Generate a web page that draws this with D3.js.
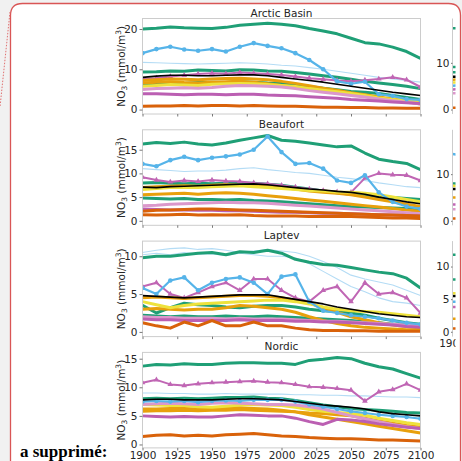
<!DOCTYPE html>
<html>
<head>
<meta charset="utf-8">
<script src="https://cdn.jsdelivr.net/npm/d3@7"></script>
<style>
  body { margin: 0; background: #f1f1f1; }
  svg { display: block; font-family: "DejaVu Sans", sans-serif; }
</style>
</head>
<body>
<svg width="462" height="461"></svg>
<script>
// ---- data ----
var years = [1900, 1910, 1920, 1930, 1940, 1950, 1960, 1970, 1980, 1990, 2000,
             2010, 2020, 2030, 2040, 2050, 2060, 2070, 2080, 2090, 2100];
var xTicks = [1900, 1925, 1950, 1975, 2000, 2025, 2050, 2075, 2100];
var regions = ["Arctic Basin", "Beaufort", "Laptev", "Nordic"];
var yDomains = [[-1.1, 22.6], [-0.95, 19.2], [-0.62, 12.0], [-0.6, 16.1]];
var yTicks = [[0, 10, 20], [0, 5, 10, 15], [0, 5, 10], [0, 5, 10, 15]];

var models = ["mean", "greenA", "sky", "lightblue", "lightblue2", "greenB", "purpleA",
              "orangeA", "yellow", "orangeB", "greenC", "pink", "purpleB", "verm", "verm2"];

var arcticBasin = [
  [8.0, 8.3, 8.5, 8.5, 8.4, 8.4, 8.5, 8.6, 8.6, 8.4, 8.0, 7.6, 7.2, 6.8, 6.3, 5.8, 5.3, 4.8, 4.3, 3.9, 3.5],
  [20.0, 20.2, 20.5, 20.3, 20.2, 20.1, 20.4, 20.9, 21.2, 21.4, 21.2, 20.8, 20.1, 19.5, 18.8, 17.7, 16.6, 16.3, 15.5, 14.4, 12.7],
  [14.0, 15.0, 15.6, 14.9, 14.6, 15.0, 14.4, 15.6, 16.5, 15.8, 15.2, 14.0, 12.3, 10.0, 7.0, 6.4, 6.9, 3.8, 3.4, 2.6, 2.4],
  [11.7, 11.6, 11.5, 11.4, 11.3, 11.4, 11.5, 11.6, 11.5, 11.3, 11.0, 10.8, 10.4, 10.0, 9.5, 9.0, 8.5, 8.0, 7.6, 7.2, 6.8],
  null,
  [9.3, 9.4, 9.6, 9.5, 9.8, 9.7, 9.6, 9.9, 9.8, 9.6, 9.5, 9.2, 8.8, 8.4, 8.0, 7.5, 7.0, 6.6, 6.2, 5.8, 5.2],
  [7.6, 7.8, 8.2, 8.5, 8.8, 9.0, 8.9, 9.2, 9.0, 8.8, 8.6, 8.2, 7.8, 7.5, 7.2, 7.0, 7.3, 7.6, 8.0, 7.4, 5.6],
  [7.2, 7.4, 7.6, 7.5, 7.4, 7.6, 7.7, 7.8, 7.6, 7.4, 7.0, 6.5, 5.9, 5.3, 4.8, 4.2, 3.7, 3.1, 2.6, 2.1, 1.6],
  [5.8, 6.0, 6.2, 6.1, 6.0, 6.3, 6.4, 6.5, 6.4, 6.2, 6.0, 5.7, 5.2, 4.8, 4.4, 4.0, 3.5, 2.9, 2.5, 2.1, 1.8],
  [6.6, 6.8, 6.9, 6.7, 6.6, 6.8, 6.9, 7.0, 6.8, 6.4, 6.0, 5.6, 5.2, 4.8, 4.3, 3.9, 3.4, 2.9, 2.4, 2.0, 1.4],
  [6.3, 6.4, 6.6, 6.5, 6.7, 6.8, 6.7, 6.9, 6.8, 6.6, 6.5, 6.2, 5.7, 5.3, 4.9, 4.5, 4.3, 4.0, 3.5, 3.0, 2.5],
  [5.0, 5.2, 5.3, 5.4, 5.3, 5.5, 5.8, 6.0, 5.9, 5.8, 5.6, 5.2, 4.7, 4.3, 3.9, 3.5, 3.1, 2.6, 2.2, 1.8, 1.4],
  [3.9, 3.9, 3.8, 3.7, 3.8, 3.8, 3.7, 3.8, 3.8, 3.6, 3.5, 3.4, 3.2, 3.0, 2.8, 2.5, 2.3, 2.1, 1.9, 1.7, 1.5],
  [0.8, 0.9, 0.9, 1.0, 0.9, 1.0, 1.0, 0.9, 1.0, 0.9, 0.8, 0.8, 0.7, 0.6, 0.6, 0.5, 0.5, 0.4, 0.4, 0.3, 0.3],
  null
];

var beaufort = [
  [7.1, 7.0, 7.2, 7.3, 7.4, 7.5, 7.6, 7.7, 7.8, 7.6, 7.3, 7.0, 6.7, 6.5, 6.2, 6.0, 5.6, 5.0, 4.5, 4.0, 3.6],
  [16.2, 16.5, 16.3, 16.6, 16.2, 16.0, 16.4, 17.0, 17.5, 18.0, 17.0, 16.8, 16.4, 16.0, 15.6, 15.8, 14.3, 13.0, 12.5, 12.1, 10.8],
  [12.0, 11.5, 12.8, 13.5, 12.8, 13.3, 13.6, 14.0, 15.0, 17.8, 14.5, 12.0, 12.2, 11.0, 8.5, 8.0, 9.6, 6.0, 4.0, 3.0, 2.5],
  [11.0, 10.8, 10.6, 10.4, 10.5, 10.5, 10.7, 11.0, 11.2, 10.8, 10.5, 10.2, 10.0, 9.6, 9.2, 8.9, 8.5, 8.0, 7.6, 7.2, 7.0],
  null,
  [8.0, 8.1, 7.9, 7.8, 7.9, 7.8, 7.9, 8.0, 7.9, 7.7, 7.5, 7.1, 6.7, 6.3, 5.9, 5.6, 5.3, 5.1, 4.9, 4.7, 4.5],
  [9.2, 8.6, 8.2, 8.5, 8.3, 8.6, 8.4, 8.3, 8.0, 7.8, 7.5, 7.1, 6.7, 6.4, 6.1, 6.0, 9.0, 10.0, 9.7, 9.6, 8.5],
  [7.0, 7.2, 7.3, 7.4, 7.3, 7.5, 7.6, 7.5, 7.4, 7.2, 7.0, 6.7, 6.3, 6.0, 5.8, 5.5, 5.0, 4.5, 4.0, 3.5, 3.0],
  [6.6, 6.8, 7.0, 7.1, 7.0, 7.2, 7.3, 7.4, 7.2, 7.0, 6.8, 6.6, 6.4, 6.3, 6.1, 6.0, 5.8, 5.5, 5.0, 4.5, 4.0],
  [5.5, 5.6, 5.7, 5.8, 5.6, 5.8, 5.9, 5.8, 5.6, 5.3, 5.0, 4.7, 4.4, 4.1, 3.8, 3.5, 3.2, 2.9, 2.6, 2.3, 2.0],
  [4.8, 4.7, 4.6, 4.7, 4.5, 4.5, 4.4, 4.5, 4.3, 4.2, 4.0, 3.8, 3.6, 3.4, 3.2, 3.0, 2.9, 2.8, 2.7, 2.6, 2.5],
  [3.2, 3.3, 3.5, 3.6, 3.7, 3.8, 3.9, 3.8, 3.8, 3.7, 3.5, 3.3, 3.1, 2.9, 2.7, 2.5, 2.3, 2.1, 1.9, 1.7, 1.5],
  [2.5, 2.4, 2.3, 2.3, 2.2, 2.2, 2.1, 2.1, 2.0, 1.9, 1.8, 1.8, 1.7, 1.6, 1.6, 1.5, 1.4, 1.3, 1.2, 1.1, 1.0],
  [1.3, 1.2, 1.3, 1.4, 1.2, 1.3, 1.2, 1.3, 1.1, 1.0, 1.0, 1.0, 0.9, 0.9, 0.9, 0.9, 0.8, 0.7, 0.6, 0.6, 0.5],
  [2.0, 2.2, 2.3, 2.4, 2.5, 2.5, 2.4, 2.3, 2.2, 2.1, 2.0, 1.9, 1.8, 1.7, 1.6, 1.5, 1.4, 1.3, 1.2, 1.1, 1.0]
];

var laptev = [
  [4.8, 4.7, 4.6, 4.5, 4.6, 4.7, 4.8, 4.9, 4.9, 4.9, 4.6, 4.3, 4.0, 3.7, 3.3, 3.0, 2.7, 2.4, 2.2, 2.0, 1.9],
  [9.8, 10.0, 10.0, 10.2, 10.4, 10.5, 10.2, 10.6, 10.5, 10.8, 10.4, 9.6, 9.2, 8.9, 8.8, 8.5, 8.2, 7.9, 7.7, 7.1, 5.8],
  [5.8, 5.0, 6.8, 7.2, 5.5, 6.5, 7.0, 7.2, 6.5, 5.0, 7.3, 7.6, 4.0, 2.8, 2.5, 2.2, 2.0, 1.8, 1.5, 1.2, 1.0],
  [10.5, 10.8, 11.0, 11.1, 10.9, 11.0, 10.8, 10.5, 10.7, 10.9, 10.7, 10.5, 10.0, 9.3, 8.5, 7.5, 7.0, 6.6, 6.2, 5.5, 4.8],
  [10.2, 10.4, 10.2, 10.5, 10.3, 10.3, 10.1, 10.4, 10.2, 10.0, 10.0, 9.8, 9.0, 8.0, 7.0, 6.0, 5.3, 4.5, 4.0, 3.8, 3.5],
  [3.5, 2.5, 3.2, 3.8, 3.6, 3.5, 3.3, 3.2, 3.4, 3.5, 3.5, 3.3, 3.0, 2.8, 2.7, 2.5, 2.2, 1.8, 1.5, 1.2, 1.0],
  [6.0, 6.5, 5.0, 4.5, 5.2, 6.0, 6.5, 5.5, 7.0, 7.0, 5.5, 4.5, 4.0, 5.5, 6.0, 4.0, 6.5, 5.0, 5.2, 4.5, 2.5],
  [4.5, 4.6, 4.5, 4.4, 4.5, 4.6, 4.7, 4.8, 4.8, 4.7, 4.5, 4.2, 3.8, 3.2, 2.6, 2.0, 1.6, 1.2, 0.9, 0.7, 0.5],
  [4.0, 3.6, 3.2, 3.5, 3.7, 3.8, 3.9, 4.0, 4.1, 4.2, 4.2, 4.0, 3.7, 3.3, 3.0, 2.8, 2.7, 2.6, 2.4, 2.2, 2.0],
  [3.0, 3.1, 3.0, 2.9, 3.0, 3.0, 3.2, 3.5, 3.4, 3.2, 3.0, 2.6, 2.0, 1.5, 1.1, 0.8, 0.6, 0.5, 0.4, 0.3, 0.3],
  [2.2, 2.1, 2.0, 2.1, 2.0, 2.0, 2.1, 2.0, 2.0, 2.1, 2.0, 1.9, 1.8, 1.7, 1.6, 1.5, 1.3, 1.2, 1.0, 0.9, 0.8],
  [2.0, 1.9, 1.9, 1.8, 1.8, 1.8, 1.7, 1.8, 1.7, 1.7, 1.7, 1.6, 1.5, 1.4, 1.4, 1.3, 1.2, 1.1, 1.0, 0.9, 0.8],
  [1.7, 1.6, 1.6, 1.5, 1.5, 1.5, 1.5, 1.6, 1.5, 1.5, 1.5, 1.4, 1.4, 1.3, 1.3, 1.2, 1.1, 1.0, 0.9, 0.7, 0.6],
  [1.2, 0.8, 0.5, 1.3, 0.8, 1.5, 0.8, 0.8, 1.3, 0.8, 0.8, 0.5, 0.3, 0.2, 0.2, 0.15, 0.15, 0.1, 0.1, 0.1, 0.1],
  null
];

var nordic = [
  [7.8, 7.9, 7.9, 7.8, 7.8, 7.8, 7.9, 8.0, 8.0, 7.9, 7.8, 7.5, 7.2, 6.9, 6.7, 6.5, 6.2, 5.7, 5.4, 5.2, 5.0],
  [13.7, 14.0, 13.9, 14.1, 14.0, 14.0, 14.2, 14.3, 14.3, 14.2, 14.2, 14.0, 14.7, 14.9, 15.2, 15.0, 14.2, 13.6, 13.2, 12.4, 11.6],
  [7.5, 7.6, 7.5, 7.6, 7.4, 7.6, 7.7, 7.6, 7.8, 7.8, 7.8, 7.5, 7.0, 6.6, 6.2, 5.8, 5.5, 5.2, 5.0, 4.8, 4.5],
  [9.0, 9.0, 8.9, 8.9, 8.8, 8.8, 8.9, 8.8, 8.8, 8.8, 8.8, 8.7, 8.7, 8.6, 8.6, 8.5, 8.5, 8.4, 8.3, 8.3, 8.2],
  null,
  [8.0, 8.1, 8.0, 8.1, 8.0, 8.1, 8.2, 8.2, 8.3, 8.1, 8.0, 7.7, 7.3, 6.9, 6.6, 6.3, 6.1, 6.0, 5.8, 5.6, 5.5],
  [10.8, 11.3, 10.5, 10.3, 10.6, 10.8, 10.9, 11.0, 11.1, 10.9, 10.8, 10.5, 10.1, 10.0, 9.8, 9.5, 7.6, 9.2, 9.6, 10.6, 9.5],
  [6.2, 6.2, 6.3, 6.3, 6.2, 6.3, 6.4, 6.4, 6.3, 6.2, 6.0, 5.7, 5.2, 4.8, 4.4, 4.0, 3.6, 3.2, 2.8, 2.4, 2.0],
  [7.0, 6.9, 6.8, 6.8, 6.6, 6.5, 6.7, 6.9, 7.0, 6.9, 6.8, 6.5, 6.1, 5.8, 5.6, 5.4, 5.1, 4.6, 4.2, 3.8, 3.5],
  [5.8, 5.9, 5.9, 6.0, 5.9, 6.0, 6.0, 6.1, 6.0, 5.9, 5.8, 5.7, 5.5, 5.4, 5.2, 5.0, 4.6, 4.1, 3.7, 3.3, 3.0],
  null,
  [7.0, 7.1, 7.2, 7.1, 7.0, 7.2, 7.3, 7.2, 7.1, 7.0, 7.0, 6.9, 6.6, 6.2, 5.6, 5.0, 4.5, 4.0, 3.5, 3.1, 2.8],
  [5.0, 4.9, 4.8, 4.9, 4.8, 4.8, 5.0, 5.2, 5.1, 5.0, 5.0, 4.6, 4.0, 3.5, 4.4, 4.3, 4.0, 3.6, 3.3, 3.0, 2.8],
  [1.4, 1.6, 1.7, 1.5, 1.6, 1.5, 1.7, 1.8, 1.9, 1.7, 1.5, 1.4, 1.2, 1.1, 1.0, 1.0, 0.9, 0.8, 0.8, 0.7, 0.6],
  null
];

// right-hand column (cut off by the page): first two decades only
var rightDomains = [[-0.96, 19.5], [-0.96, 19.5], [-0.74, 13.9]];
var rightTicks = [[0, 10], [0, 10], [0, 5, 10]];
var rightArctic = [[7.0, 7.0], [17.4, 17.5], [5.1, 5.3], null, null, [9.1, 9.2], [4.3, 4.4],
  [6.4, 6.5], [5.8, 5.8], null, [8.0, 8.0], [3.5, 3.5], null, [0.4, 0.4], null];
var rightBeaufort = [[6.8, 6.8], null, [14.3, 14.0], null, null, [8.0, 8.0], [3.5, 3.5],
  [5.0, 5.0], [7.5, 7.4], null, null, [2.5, 2.5], null, [0.5, 0.5], null];
var rightLaptev = [[5.5, 5.5], [11.8, 11.8], [4.6, 4.6], null, null, [8.0, 8.0], [3.8, 3.8],
  [2.0, 2.0], [5.9, 5.9], null, null, null, null, [0.5, 0.5], null];

// ---- styles ----
var styles = {
  mean:      {color: "#000000", width: 1.6},
  greenA:    {color: "#1f9f76", width: 3},
  sky:       {color: "#56b4e9", width: 2.2, dot: 2.3},
  lightblue: {color: "#b4dcf5", width: 1.1},
  lightblue2:{color: "#b4dcf5", width: 1.1},
  greenB:    {color: "#1f9f76", width: 3},
  purpleA:   {color: "#c066b4", width: 2, tri: true},
  orangeA:   {color: "#e8a00c", width: 3},
  yellow:    {color: "#eee23c", width: 3},
  orangeB:   {color: "#e8a00c", width: 3},
  greenC:    {color: "#1f9f76", width: 3},
  pink:      {color: "#db98cb", width: 3},
  purpleB:   {color: "#bb5fb2", width: 3},
  verm:      {color: "#d9620a", width: 3},
  verm2:     {color: "#d9620a", width: 3}
};
var drawOrder = ["lightblue", "lightblue2", "greenA", "greenB", "greenC", "purpleA", "orangeA", "orangeB",
  "yellow", "pink", "purpleB", "verm", "verm2", "sky", "mean"];

var panelData = [arcticBasin, beaufort, laptev, nordic];
var rightData = [rightArctic, rightBeaufort, rightLaptev];

// ---- layout ----
var svg = d3.select("svg");
var left = 142.5, right = 420.5, top0 = 18.5, step = 111.3, panelH = 95.5;
var axisColor = "#cccccc", textColor = "#262626";

// document frame
svg.append("path")
    .attr("d", "M10.5,475 L10.5,15.5 Q10.5,3.5 22.5,3.5 L448.5,3.5 Q460.5,3.5 460.5,15.5 L460.5,475")
    .attr("fill", "#ffffff")
    .attr("stroke", "#d95555")
    .attr("stroke-width", 1.3);
svg.append("line")
    .attr("x1", 10).attr("y1", 12).attr("x2", 0).attr("y2", 107)
    .attr("stroke", "#e07070").attr("stroke-width", 1)
    .attr("stroke-dasharray", "1.5,1.5");

var x = d3.scaleLinear().domain([1900, 2100]).range([left, right]);

svg.append("defs").append("clipPath").attr("id", "rightclip")
  .append("rect").attr("x", 380).attr("y", 0).attr("width", 75.5).attr("height", 461);

panelData.forEach(function(rows, p) {
  var top = top0 + p * step, bottom = top + panelH;
  var y = d3.scaleLinear().domain(yDomains[p]).range([bottom, top]);
  var g = svg.append("g");

  g.append("clipPath").attr("id", "clip" + p)
    .append("rect").attr("x", left).attr("y", top).attr("width", right - left).attr("height", panelH);

  var plot = g.append("g").attr("clip-path", "url(#clip" + p + ")");
  var line = d3.line()
      .defined(function(d) { return d != null; })
      .x(function(d, i) { return x(years[i]); })
      .y(function(d) { return y(d); });

  drawOrder.forEach(function(name) {
    var vals = rows[models.indexOf(name)], s = styles[name];
    if (!vals) return;
    plot.append("path")
        .attr("d", line(vals))
        .attr("fill", "none")
        .attr("stroke", s.color)
        .attr("stroke-width", s.width)
        .attr("stroke-linejoin", "round");
    if (s.dot) {
      plot.selectAll(null).data(vals).enter().append("circle")
          .attr("cx", function(d, i) { return x(years[i]); })
          .attr("cy", function(d) { return y(d); })
          .attr("r", s.dot)
          .attr("fill", s.color);
    }
    if (s.tri) {
      var tri = d3.symbol().type(d3.symbolTriangle).size(14);
      plot.selectAll(null).data(vals).enter().append("path")
          .attr("d", tri)
          .attr("transform", function(d, i) { return "translate(" + x(years[i]) + "," + y(d) + ")"; })
          .attr("fill", s.color);
    }
  });

  // frame
  g.append("rect")
      .attr("x", left).attr("y", top).attr("width", right - left).attr("height", panelH)
      .attr("fill", "none").attr("stroke", axisColor).attr("stroke-width", 1);

  // y axis
  var ya = g.append("g").attr("transform", "translate(" + left + ",0)")
      .call(d3.axisLeft(y).tickValues(yTicks[p]).tickSize(3).tickPadding(2));
  ya.select(".domain").remove();
  ya.selectAll("line").attr("stroke", "#777");
  ya.selectAll("text").attr("fill", textColor).attr("font-size", 10.5)
      .attr("font-family", "DejaVu Sans, sans-serif");

  // x axis
  var xa = g.append("g").attr("transform", "translate(0," + bottom + ")")
      .call(d3.axisBottom(x).tickValues(xTicks).tickFormat(d3.format("d")).tickSize(2.5).tickPadding(1.5));
  xa.select(".domain").remove();
  xa.selectAll("line").attr("stroke", "#777");
  xa.selectAll("text").attr("fill", textColor).attr("font-size", 10.5)
      .attr("font-family", "DejaVu Sans, sans-serif")
      .style("display", p === panelData.length - 1 ? null : "none");

  // title
  g.append("text")
      .attr("x", (left + right) / 2).attr("y", top - 2)
      .attr("text-anchor", "middle").attr("font-size", 10.5).attr("fill", textColor)
      .text(regions[p]);

  // y label
  var lab = g.append("text")
      .attr("transform", "translate(124.5," + (top + panelH / 2) + ") rotate(-90)")
      .attr("text-anchor", "middle").attr("font-size", 10.5).attr("fill", textColor);
  lab.append("tspan").text("NO");
  lab.append("tspan").text("3").attr("font-size", 7.5).attr("dy", 2.5);
  lab.append("tspan").text(" (mmol/m").attr("dy", -2.5);
  lab.append("tspan").text("3").attr("font-size", 7.5).attr("dy", -4);
  lab.append("tspan").text(")").attr("dy", 4);
});

// right-hand column, mostly cut off
var rx = d3.scaleLinear().domain([1900, 2100]).range([452.5, 730.5]);
var rg = svg.append("g").attr("clip-path", "url(#rightclip)");
rightData.forEach(function(rows, p) {
  var top = top0 + p * step, bottom = top + panelH;
  var y = d3.scaleLinear().domain(rightDomains[p]).range([bottom, top]);
  var line = d3.line()
      .x(function(d, i) { return rx(years[i]); })
      .y(function(d) { return y(d); });
  models.forEach(function(name, i) {
    if (!rows[i]) return;
    rg.append("path")
        .attr("d", line(rows[i]))
        .attr("fill", "none")
        .attr("stroke", styles[name].color)
        .attr("stroke-width", 2.5);
  });
  rg.append("line")
      .attr("x1", 452.5).attr("x2", 452.5).attr("y1", top).attr("y2", bottom)
      .attr("stroke", axisColor);
  var ya = rg.append("g").attr("transform", "translate(452.5,0)")
      .call(d3.axisLeft(y).tickValues(rightTicks[p]).tickSize(1.5).tickPadding(1.5));
  ya.select(".domain").remove();
  ya.selectAll("line").attr("stroke", "#777");
  ya.selectAll("text").attr("fill", textColor).attr("font-size", 10.5)
      .attr("font-family", "DejaVu Sans, sans-serif");
  if (p === rightData.length - 1) {
    rg.append("text")
        .attr("x", rx(1900)).attr("y", bottom + 10.5)
        .attr("text-anchor", "middle").attr("font-size", 10.5).attr("fill", textColor)
        .text("1900");
  }
});

// tracked-change note
svg.append("text")
    .attr("x", 20).attr("y", 457)
    .attr("font-family", "Liberation Serif, serif")
    .attr("font-weight", "bold").attr("font-size", 17).attr("fill", "#000")
    .text("a supprimé:");
</script>
</body>
</html>
